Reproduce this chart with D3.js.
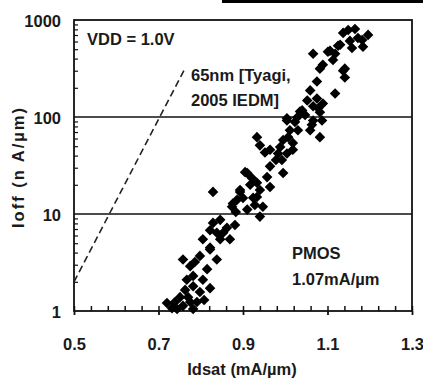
<!DOCTYPE html>
<html>
<head>
<meta charset="utf-8">
<script src="https://cdn.jsdelivr.net/npm/d3@7"></script>
<style>
  body { margin: 0; background: #fff; }
  text { font-family: "Liberation Sans", Arial, sans-serif; font-weight: bold; fill: #1a1a1a; }
</style>
</head>
<body>
<div id="chart"></div>
<script>
// PMOS Idsat (mA/um) vs Ioff (nA/um)
const idsat = [1.165, 1.137, 1.196, 1.184, 1.153, 1.130, 1.118, 1.106, 1.066, 1.089,
  1.082, 1.137, 1.141, 1.075, 1.118, 1.059, 1.052, 1.040, 1.066, 1.089,
  1.075, 1.082, 1.087, 1.082, 1.028, 1.004, 1.011, 1.030, 1.018, 0.995,
  0.933, 0.940, 0.952, 0.983, 1.004, 0.992, 0.964, 0.995, 0.957, 0.910,
  0.917, 0.940, 0.924, 0.893, 0.886, 0.874, 0.829, 0.910, 0.947, 0.940,
  0.846, 0.862, 0.829, 0.838, 0.869, 0.805, 0.822, 0.798, 0.758, 0.775,
  0.767, 0.822, 0.798, 0.751, 0.720, 0.758, 0.775, 0.744, 0.782, 1.078,
  1.059, 0.988, 1.018, 0.905, 0.933, 0.964, 0.876, 0.893, 0.933, 0.815,
  0.782, 0.791, 0.838, 0.782, 1.125, 1.101, 1.141, 1.035, 1.066, 1.004,
  0.846, 0.822, 1.172, 1.149, 1.182, 1.113, 1.158, 1.047, 1.063, 1.023,
  1.007, 0.978, 0.964, 0.921, 0.900, 0.928, 0.883, 0.853, 0.822, 0.881,
  0.786, 0.805, 0.763, 0.739, 0.770, 0.732, 0.808];
const ioff = [809, 736, 702, 529, 609, 555, 449, 482, 449, 346,
  315, 300, 255, 232, 175, 188, 148, 117, 129, 138,
  155, 112, 92, 62, 99, 92, 73, 73, 54, 58,
  62, 51, 43, 42, 42, 36, 31, 26.5, 24, 26.5,
  20, 17.7, 14.7, 17.7, 14, 11.9, 16.9, 11.1, 11.9, 9.4,
  8.7, 7.2, 8.1, 6.4, 5.5, 5.5, 4.5, 3.7, 3.4, 2.9,
  2.1, 1.72, 1.57, 1.39, 1.21, 1.13, 1.24, 1.05, 1.05, 123,
  73, 49, 46, 27, 21, 19, 12.8, 16.9, 15, 2.7,
  1.8, 1.24, 3.4, 2.3, 542, 470, 315, 114, 92, 97,
  5.5, 4.3, 652, 789, 622, 387, 514, 105, 83, 89,
  62, 36, 46, 23.5, 14.6, 12.4, 10.5, 6.4, 6.8, 7.7,
  3.2, 2.1, 1.65, 1.24, 1.39, 1.07, 1.30];
// 65nm reference trend (dashed)
const refIdsat = [0.5, 0.76];
const refIoff = [2.0, 300];
const xTicks = [0.5, 0.7, 0.9, 1.1, 1.3];
const yTicks = [1, 10, 100, 1000];
const gridValues = [10, 100];

const width = 423, height = 382;
const margin = { top: 20, right: 11, bottom: 71, left: 74 };
const fontSize = '16.5px';

const svg = d3.select('#chart')
  .append('svg')
  .attr('width', width)
  .attr('height', height);

// black strip at the top edge of the figure
svg.append('rect')
  .attr('x', 222).attr('y', 0)
  .attr('width', width - 222).attr('height', 3)
  .attr('fill', '#000');

const x = d3.scaleLinear()
  .domain([0.5, 1.3])
  .range([margin.left, width - margin.right]);
const y = d3.scaleLog()
  .domain([1, 1000])
  .range([height - margin.bottom, margin.top]);

//Gridlines at the decades
svg.selectAll('.grid')
  .data(gridValues)
  .join('line')
  .attr('class', 'grid')
  .attr('x1', x.range()[0]).attr('x2', x.range()[1])
  .attr('y1', d => y(d)).attr('y2', d => y(d))
  .attr('stroke', '#111')
  .attr('stroke-width', 1.5);

//Frame
svg.append('rect')
  .attr('x', x.range()[0]).attr('y', y.range()[1])
  .attr('width', x.range()[1] - x.range()[0])
  .attr('height', y.range()[0] - y.range()[1])
  .attr('fill', 'none')
  .attr('stroke', '#111')
  .attr('stroke-width', 1.8);

//X-Axis labels + outer major ticks
const xAxis = svg.append('g')
  .attr('transform', `translate(0, ${y.range()[0]})`)
  .call(d3.axisBottom(x).tickValues(xTicks).tickSizeInner(4).tickSizeOuter(0)
    .tickPadding(23).tickFormat(d3.format('.1f')));
xAxis.select('.domain').remove();
xAxis.selectAll('line').attr('stroke', '#111').attr('stroke-width', 1.8);
xAxis.selectAll('text').style('font-size', fontSize).attr('fill', '#1a1a1a');

//X minor ticks pointing inward
const xMinor = d3.range(0, 21).map(i => 0.5 + i * 0.04);
const xIn = svg.append('g')
  .attr('transform', `translate(0, ${y.range()[0]})`)
  .call(d3.axisTop(x).tickValues(xMinor).tickSize(5).tickFormat(''));
xIn.select('.domain').remove();
xIn.selectAll('line').attr('stroke', '#111').attr('stroke-width', 1.5);

//Y-Axis labels
const yAxis = svg.append('g')
  .attr('transform', `translate(${x.range()[0]}, 0)`)
  .call(d3.axisLeft(y).tickValues(yTicks).tickSize(0).tickPadding(13)
    .tickFormat(d3.format('d')));
yAxis.select('.domain').remove();
yAxis.selectAll('text').style('font-size', fontSize).attr('fill', '#1a1a1a').attr('dy', '0.4em');

//Y minor ticks pointing inward
const yMinor = [];
[1, 10, 100].forEach(dec => { for (let k = 2; k <= 9; k++) yMinor.push(dec * k); });
const yIn = svg.append('g')
  .attr('transform', `translate(${x.range()[0]}, 0)`)
  .call(d3.axisRight(y).tickValues(yMinor).tickSize(4).tickFormat(''));
yIn.select('.domain').remove();
yIn.selectAll('line').attr('stroke', '#111').attr('stroke-width', 1.2);

//Axis titles
svg.append('text')
  .attr('x', (x.range()[0] + x.range()[1]) / 2 - 1)
  .attr('y', 375)
  .attr('text-anchor', 'middle')
  .style('font-size', fontSize)
  .text('Idsat (mA/µm)');
svg.append('text')
  .attr('transform', 'translate(24, 168) rotate(-90)')
  .attr('text-anchor', 'middle')
  .attr('textLength', 120)
  .attr('lengthAdjust', 'spacing')
  .style('font-size', fontSize)
  .text('Ioff (n A/µm)');

//Dashed reference line
const refData = refIdsat.map((d, i) => ({ x: d, y: refIoff[i] }));
svg.append('path')
  .datum(refData)
  .attr('fill', 'none')
  .attr('stroke', '#222')
  .attr('stroke-width', 1.6)
  .attr('stroke-dasharray', '7,4')
  .attr('d', d3.line().x(d => x(d.x)).y(d => y(d.y)));

//Diamonds
const points = idsat.map((d, i) => ({ x: d, y: ioff[i] }));
const diamond = d3.symbol().type(d3.symbolSquare).size(56);
svg.selectAll('.pt')
  .data(points)
  .join('path')
  .attr('class', 'pt')
  .attr('d', diamond)
  .attr('transform', d => `translate(${x(d.x)}, ${y(d.y)}) rotate(45)`)
  .attr('fill', '#000');

//Annotations
const notes = [
  { t: 'VDD = 1.0V', x: 87, y: 45 },
  { t: '65nm [Tyagi,', x: 191, y: 81 },
  { t: '2005 IEDM]', x: 191, y: 106 },
  { t: 'PMOS', x: 292, y: 259 },
  { t: '1.07mA/µm', x: 292, y: 285 }
];
svg.selectAll('.note')
  .data(notes)
  .join('text')
  .attr('class', 'note')
  .attr('x', d => d.x)
  .attr('y', d => d.y)
  .style('font-size', fontSize)
  .text(d => d.t);
</script>
</body>
</html>
